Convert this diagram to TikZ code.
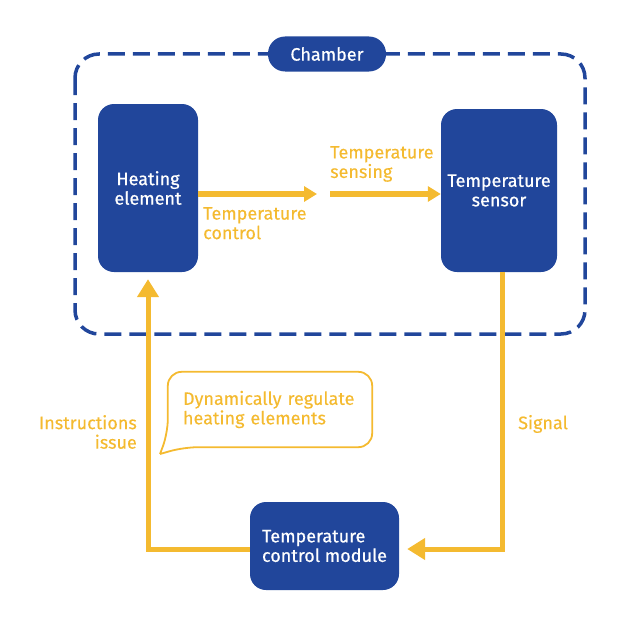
\documentclass[tikz,border=0pt]{standalone}
\usepackage{fontspec}
\setmainfont{Fira Sans}
\newfontfamily\heavyfont{Fira Sans}[FakeBold=0.6]
\newfontfamily\midfont{Fira Sans}[FakeBold=0.25]
\usepackage{xcolor}
\usetikzlibrary{positioning, arrows.meta}

\definecolor{chblue}{RGB}{33,70,155}
\definecolor{chyellow}{RGB}{244,186,48}

\begin{document}
\begin{tikzpicture}[
        x=1pt, y=-1pt,
        every node/.style={font=\midfont\fontsize{18}{19.5}\selectfont},
        block/.style={rectangle, rounded corners=16pt, fill=chblue, text=white, align=center, inner sep=0pt,
            font=\heavyfont\fontsize{18}{19.5}\selectfont},
        label/.style={text=chyellow, align=left, inner sep=0pt},
        flow/.style={draw=chyellow, line width=6pt, -{Triangle[length=13pt, width=15pt]}},
        loop/.style={draw=chyellow, line width=5pt, -{Triangle[length=18pt, width=21pt]}},
    ]
        \useasboundingbox (0,0) rectangle (622,634);

        % Chamber
        \draw[chblue, line width=3.5pt, dash pattern=on 17pt off 8pt, rounded corners=24pt]
            (75,54) rectangle (585,334);
        \node[block, rounded corners=17pt, minimum width=118pt, minimum height=35pt] (chamber) at (327,54) {Chamber};

        % Nodes
        \node[block, minimum width=100pt, minimum height=168pt] (heater) at (148,188) {Heating\\element};
        \node[block, minimum width=116pt, minimum height=163pt] (sensor) at (499,190.5) {Temperature\\sensor};
        \node[block, minimum width=149pt, minimum height=88pt, align=left] (module) at (324.5,546) {Temperature\\control module};
        \coordinate (gap1) at (317,194);
        \coordinate (gap2) at (330,194);
        \coordinate (sigcorner) at (502,549);
        \coordinate (inscorner) at (148,549);

        % Labels
        \node[label, anchor=north west] (ctrl) at (203,207) {Temperature\\control};
        \node[label, anchor=south west] (sense) at (330,182) {Temperature\\sensing};
        \node[label, anchor=west] (signal) at (518,424) {Signal};
        \node[label, align=right, anchor=east] (issue) at (137,432) {Instructions\\issue};

        % Bubble
        \node[label, minimum width=204pt, minimum height=75pt, text width=174pt] (bubble) at (270,409.5) {Dynamically regulate\\heating elements};
        \coordinate (tail) at (160,454);
        \draw[chyellow, line width=1.8pt, rounded corners=14pt]
            (tail) -- ([yshift=14pt]bubble.south west) -- (bubble.north west) -- (bubble.north east)
            -- (bubble.south east) -- ([xshift=16pt]bubble.south west) -- (tail);

        % Arrows
        \draw[flow] (heater.east |- gap1) -- (gap1);
        \draw[flow] (gap2) -- (sensor.west |- gap2);
        \draw[loop] (sensor.south -| sigcorner) -- (sigcorner) -- ([xshift=8pt]module.east |- sigcorner);
        \draw[loop] (module.west |- inscorner) -- (inscorner) -- ([yshift=-7pt]heater.south);

    \end{tikzpicture}
\end{document}
